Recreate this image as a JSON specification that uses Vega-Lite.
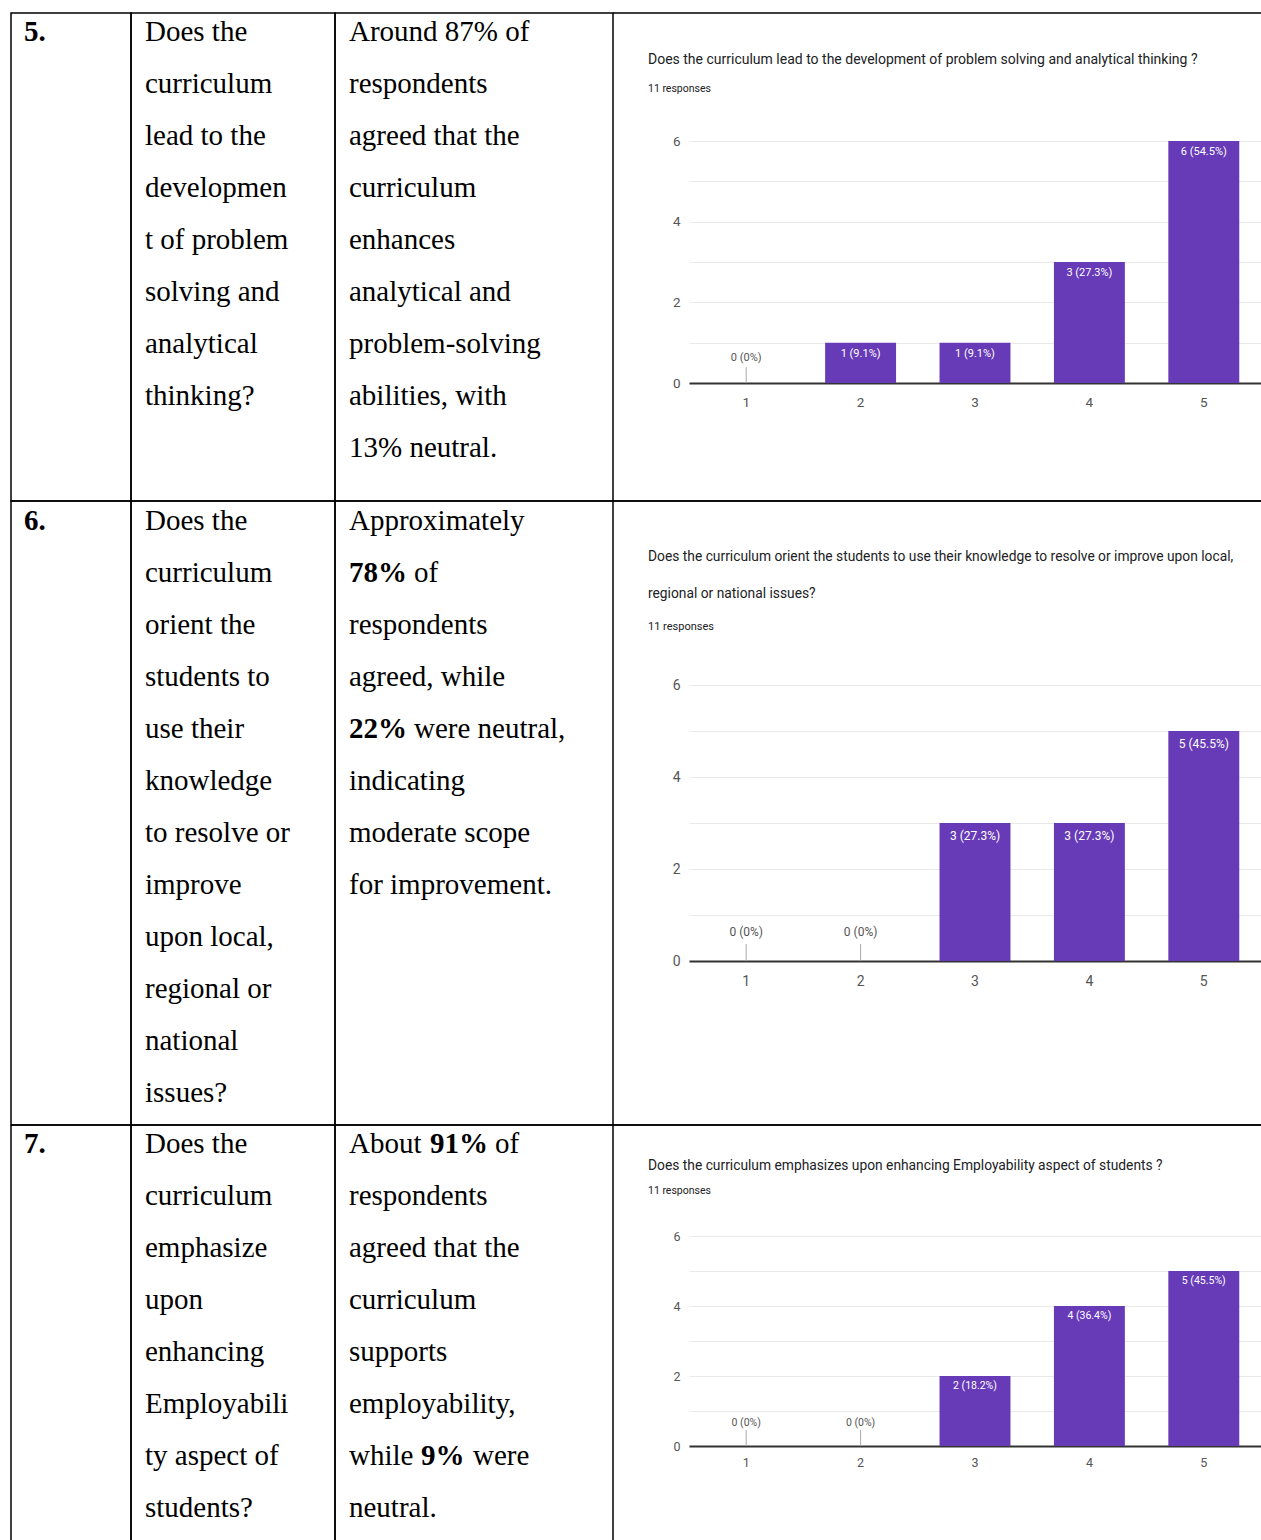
{
  "$schema": "https://vega.github.io/schema/vega-lite/v6.json",
  "background": "white",
  "padding": {"left": 10, "top": 12, "right": 0, "bottom": 0},
  "columns": 4,
  "spacing": 0,
  "align": "each",
  "bounds": "flush",
  "config": {
    "view": {"stroke": "#000", "strokeWidth": 1.5},
    "text": {"font": "Liberation Serif", "fontSize": 29, "color": "#000", "align": "left", "baseline": "middle"}
  },
  "datasets": {
    "lines": [
      {"row": 5, "col": "num", "line": 1, "seg": 0, "text": "5."},
      {"row": 5, "col": "q", "line": 1, "seg": 0, "text": "Does the"},
      {"row": 5, "col": "q", "line": 2, "seg": 0, "text": "curriculum"},
      {"row": 5, "col": "q", "line": 3, "seg": 0, "text": "lead to the"},
      {"row": 5, "col": "q", "line": 4, "seg": 0, "text": "developmen"},
      {"row": 5, "col": "q", "line": 5, "seg": 0, "text": "t of problem"},
      {"row": 5, "col": "q", "line": 6, "seg": 0, "text": "solving and"},
      {"row": 5, "col": "q", "line": 7, "seg": 0, "text": "analytical"},
      {"row": 5, "col": "q", "line": 8, "seg": 0, "text": "thinking?"},
      {"row": 5, "col": "a", "line": 1, "seg": 0, "text": "Around 87% of"},
      {"row": 5, "col": "a", "line": 2, "seg": 0, "text": "respondents"},
      {"row": 5, "col": "a", "line": 3, "seg": 0, "text": "agreed that the"},
      {"row": 5, "col": "a", "line": 4, "seg": 0, "text": "curriculum"},
      {"row": 5, "col": "a", "line": 5, "seg": 0, "text": "enhances"},
      {"row": 5, "col": "a", "line": 6, "seg": 0, "text": "analytical and"},
      {"row": 5, "col": "a", "line": 7, "seg": 0, "text": "problem-solving"},
      {"row": 5, "col": "a", "line": 8, "seg": 0, "text": "abilities, with"},
      {"row": 5, "col": "a", "line": 9, "seg": 0, "text": "13% neutral."},
      {"row": 6, "col": "num", "line": 1, "seg": 0, "text": "6."},
      {"row": 6, "col": "q", "line": 1, "seg": 0, "text": "Does the"},
      {"row": 6, "col": "q", "line": 2, "seg": 0, "text": "curriculum"},
      {"row": 6, "col": "q", "line": 3, "seg": 0, "text": "orient the"},
      {"row": 6, "col": "q", "line": 4, "seg": 0, "text": "students to"},
      {"row": 6, "col": "q", "line": 5, "seg": 0, "text": "use their"},
      {"row": 6, "col": "q", "line": 6, "seg": 0, "text": "knowledge"},
      {"row": 6, "col": "q", "line": 7, "seg": 0, "text": "to resolve or"},
      {"row": 6, "col": "q", "line": 8, "seg": 0, "text": "improve"},
      {"row": 6, "col": "q", "line": 9, "seg": 0, "text": "upon local,"},
      {"row": 6, "col": "q", "line": 10, "seg": 0, "text": "regional or"},
      {"row": 6, "col": "q", "line": 11, "seg": 0, "text": "national"},
      {"row": 6, "col": "q", "line": 12, "seg": 0, "text": "issues?"},
      {"row": 6, "col": "a", "line": 1, "seg": 0, "text": "Approximately"},
      {"row": 6, "col": "a", "line": 2, "seg": 1, "text": "78%"},
      {"row": 6, "col": "a", "line": 2, "seg": 2, "text": "of"},
      {"row": 6, "col": "a", "line": 3, "seg": 0, "text": "respondents"},
      {"row": 6, "col": "a", "line": 4, "seg": 0, "text": "agreed, while"},
      {"row": 6, "col": "a", "line": 5, "seg": 1, "text": "22%"},
      {"row": 6, "col": "a", "line": 5, "seg": 2, "text": "were neutral,"},
      {"row": 6, "col": "a", "line": 6, "seg": 0, "text": "indicating"},
      {"row": 6, "col": "a", "line": 7, "seg": 0, "text": "moderate scope"},
      {"row": 6, "col": "a", "line": 8, "seg": 0, "text": "for improvement."},
      {"row": 7, "col": "num", "line": 1, "seg": 0, "text": "7."},
      {"row": 7, "col": "q", "line": 1, "seg": 0, "text": "Does the"},
      {"row": 7, "col": "q", "line": 2, "seg": 0, "text": "curriculum"},
      {"row": 7, "col": "q", "line": 3, "seg": 0, "text": "emphasize"},
      {"row": 7, "col": "q", "line": 4, "seg": 0, "text": "upon"},
      {"row": 7, "col": "q", "line": 5, "seg": 0, "text": "enhancing"},
      {"row": 7, "col": "q", "line": 6, "seg": 0, "text": "Employabili"},
      {"row": 7, "col": "q", "line": 7, "seg": 0, "text": "ty aspect of"},
      {"row": 7, "col": "q", "line": 8, "seg": 0, "text": "students?"},
      {"row": 7, "col": "a", "line": 1, "seg": 0, "text": "About"},
      {"row": 7, "col": "a", "line": 1, "seg": 1, "text": "91%"},
      {"row": 7, "col": "a", "line": 1, "seg": 2, "text": "of"},
      {"row": 7, "col": "a", "line": 2, "seg": 0, "text": "respondents"},
      {"row": 7, "col": "a", "line": 3, "seg": 0, "text": "agreed that the"},
      {"row": 7, "col": "a", "line": 4, "seg": 0, "text": "curriculum"},
      {"row": 7, "col": "a", "line": 5, "seg": 0, "text": "supports"},
      {"row": 7, "col": "a", "line": 6, "seg": 0, "text": "employability,"},
      {"row": 7, "col": "a", "line": 7, "seg": 0, "text": "while"},
      {"row": 7, "col": "a", "line": 7, "seg": 1, "text": "9%"},
      {"row": 7, "col": "a", "line": 7, "seg": 2, "text": "were"},
      {"row": 7, "col": "a", "line": 8, "seg": 0, "text": "neutral."}
    ],
    "votes": [
      {"q": 5, "rating": "1", "count": 0, "pct": "0%"},
      {"q": 5, "rating": "2", "count": 1, "pct": "9.1%"},
      {"q": 5, "rating": "3", "count": 1, "pct": "9.1%"},
      {"q": 5, "rating": "4", "count": 3, "pct": "27.3%"},
      {"q": 5, "rating": "5", "count": 6, "pct": "54.5%"},
      {"q": 6, "rating": "1", "count": 0, "pct": "0%"},
      {"q": 6, "rating": "2", "count": 0, "pct": "0%"},
      {"q": 6, "rating": "3", "count": 3, "pct": "27.3%"},
      {"q": 6, "rating": "4", "count": 3, "pct": "27.3%"},
      {"q": 6, "rating": "5", "count": 5, "pct": "45.5%"},
      {"q": 7, "rating": "1", "count": 0, "pct": "0%"},
      {"q": 7, "rating": "2", "count": 0, "pct": "0%"},
      {"q": 7, "rating": "3", "count": 2, "pct": "18.2%"},
      {"q": 7, "rating": "4", "count": 4, "pct": "36.4%"},
      {"q": 7, "rating": "5", "count": 5, "pct": "45.5%"}
    ]
  },
  "concat": [
    {
      "width": 120, "height": 488,
      "data": {"name": "lines"},
      "transform": [{"filter": "datum.row == 5 && datum.col == 'num'"}],
      "mark": {"type": "text", "fontWeight": "bold", "dx": 13},
      "encoding": {
        "x": {"field": "col", "type": "nominal", "bandPosition": 0, "scale": {"type": "band", "paddingInner": 0, "paddingOuter": 0}, "axis": null},
        "y": {"field": "line", "type": "quantitative", "scale": {"domain": [0.642, 10.026], "reverse": true, "nice": false, "zero": false}, "axis": null},
        "text": {"field": "text"}
      }
    },
    {
      "width": 204, "height": 488,
      "data": {"name": "lines"},
      "transform": [{"filter": "datum.row == 5 && datum.col == 'q'"}],
      "mark": {"type": "text", "dx": 14},
      "encoding": {
        "x": {"field": "col", "type": "nominal", "bandPosition": 0, "scale": {"type": "band", "paddingInner": 0, "paddingOuter": 0}, "axis": null},
        "y": {"field": "line", "type": "quantitative", "scale": {"domain": [0.642, 10.026], "reverse": true, "nice": false, "zero": false}, "axis": null},
        "text": {"field": "text"}
      }
    },
    {
      "width": 278, "height": 488,
      "data": {"name": "lines"},
      "transform": [{"filter": "datum.row == 5 && datum.col == 'a'"}],
      "mark": {"type": "text", "dx": 14},
      "encoding": {
        "x": {"field": "col", "type": "nominal", "bandPosition": 0, "scale": {"type": "band", "paddingInner": 0, "paddingOuter": 0}, "axis": null},
        "y": {"field": "line", "type": "quantitative", "scale": {"domain": [0.642, 10.026], "reverse": true, "nice": false, "zero": false}, "axis": null},
        "text": {"field": "text"}
      }
    },
    {
      "width": 648, "height": 488,
      "view": {"stroke": "#000", "strokeWidth": 1.5, "strokeDash": [648, 488, 648, 488]},
      "title": {
        "text": "Does the curriculum lead to the development of  problem solving and  analytical thinking ?",
        "subtitle": "11 responses",
        "anchor": "start", "frame": "group", "dx": 35, "offset": -81,
        "font": "Roboto", "fontSize": 14, "fontWeight": "normal", "color": "#202124",
        "subtitleFont": "Roboto", "subtitleFontSize": 10.5, "subtitleColor": "#202124", "subtitlePadding": 17
      },
      "data": {"name": "votes"},
      "transform": [
        {"filter": "datum.q == 5"},
        {"calculate": "datum.count + ' (' + datum.pct + ')'", "as": "label"}
      ],
      "encoding": {
        "x": {
          "field": "rating", "type": "ordinal",
          "scale": {"range": [76, 648], "paddingInner": 0.38, "paddingOuter": 0.19},
          "axis": {"title": null, "offset": -118, "domainColor": "#333", "domainWidth": 2, "ticks": false, "tickSize": 0, "labelPadding": 19, "labelBaseline": "middle", "labelAngle": 0, "labelFont": "Roboto", "labelFontSize": 13.5, "labelColor": "#555", "grid": false}
        },
        "y": {
          "field": "count", "type": "quantitative",
          "scale": {"domain": [0, 6], "range": [370, 128], "nice": false},
          "axis": {"title": null, "offset": -76, "domain": false, "ticks": false, "tickSize": 0, "labelPadding": 9, "values": [0, 1, 2, 3, 4, 5, 6], "labelExpr": "datum.value % 2 == 0 ? datum.label : ''", "gridColor": "#e9e9e9", "gridWidth": 1, "labelFont": "Roboto", "labelFontSize": 13.5, "labelColor": "#555"}
        }
      },
      "layer": [
        {"mark": {"type": "bar", "color": "#673ab7"}},
        {
          "transform": [{"filter": "datum.count > 0"}],
          "mark": {"type": "text", "align": "center", "baseline": "middle", "dy": 11, "color": "#ffffff", "font": "Roboto", "fontSize": 11},
          "encoding": {"text": {"field": "label"}}
        },
        {
          "transform": [{"filter": "datum.count == 0"}],
          "mark": {"type": "text", "align": "center", "baseline": "middle", "dy": -25, "color": "#555", "font": "Roboto", "fontSize": 11},
          "encoding": {"text": {"field": "label"}}
        },
        {
          "transform": [{"filter": "datum.count == 0"}],
          "mark": {"type": "rule", "color": "#aaa", "strokeWidth": 1, "y2Offset": -16},
          "encoding": {"y2": {"field": "count"}}
        }
      ]
    },
    {
      "width": 120, "height": 624,
      "data": {"name": "lines"},
      "transform": [{"filter": "datum.row == 6 && datum.col == 'num'"}],
      "mark": {"type": "text", "fontWeight": "bold", "dx": 13},
      "encoding": {
        "x": {"field": "col", "type": "nominal", "bandPosition": 0, "scale": {"type": "band", "paddingInner": 0, "paddingOuter": 0}, "axis": null},
        "y": {"field": "line", "type": "quantitative", "scale": {"domain": [0.615, 12.615], "reverse": true, "nice": false, "zero": false}, "axis": null},
        "text": {"field": "text"}
      }
    },
    {
      "width": 204, "height": 624,
      "data": {"name": "lines"},
      "transform": [{"filter": "datum.row == 6 && datum.col == 'q'"}],
      "mark": {"type": "text", "dx": 14},
      "encoding": {
        "x": {"field": "col", "type": "nominal", "bandPosition": 0, "scale": {"type": "band", "paddingInner": 0, "paddingOuter": 0}, "axis": null},
        "y": {"field": "line", "type": "quantitative", "scale": {"domain": [0.615, 12.615], "reverse": true, "nice": false, "zero": false}, "axis": null},
        "text": {"field": "text"}
      }
    },
    {
      "width": 278, "height": 624,
      "data": {"name": "lines"},
      "transform": [{"filter": "datum.row == 6 && datum.col == 'a'"}],
      "encoding": {
        "x": {"field": "col", "type": "nominal", "bandPosition": 0, "scale": {"type": "band", "paddingInner": 0, "paddingOuter": 0}, "axis": null},
        "y": {"field": "line", "type": "quantitative", "scale": {"domain": [0.615, 12.615], "reverse": true, "nice": false, "zero": false}, "axis": null},
        "text": {"field": "text"}
      },
      "layer": [
        {"transform": [{"filter": "datum.seg == 0"}], "mark": {"type": "text", "dx": 14}},
        {"transform": [{"filter": "datum.seg == 1"}], "mark": {"type": "text", "dx": 14, "fontWeight": "bold"}},
        {"transform": [{"filter": "datum.seg == 2"}], "mark": {"type": "text", "dx": 79}}
      ]
    },
    {
      "width": 648, "height": 624,
      "view": {"stroke": "#000", "strokeWidth": 1.5, "strokeDash": [648, 624, 648, 624]},
      "title": {
        "text": ["Does the curriculum orient the students to use their knowledge to resolve or improve upon local,", "regional or national issues?"],
        "subtitle": "11 responses",
        "anchor": "start", "frame": "group", "dx": 35, "offset": -131, "lineHeight": 37,
        "font": "Roboto", "fontSize": 13.8, "fontWeight": "normal", "color": "#202124",
        "subtitleFont": "Roboto", "subtitleFontSize": 11, "subtitleColor": "#202124", "subtitlePadding": 20
      },
      "data": {"name": "votes"},
      "transform": [
        {"filter": "datum.q == 6"},
        {"calculate": "datum.count + ' (' + datum.pct + ')'", "as": "label"}
      ],
      "encoding": {
        "x": {
          "field": "rating", "type": "ordinal",
          "scale": {"range": [76, 648], "paddingInner": 0.38, "paddingOuter": 0.19},
          "axis": {"title": null, "offset": -164, "domainColor": "#333", "domainWidth": 2, "ticks": false, "tickSize": 0, "labelPadding": 20, "labelBaseline": "middle", "labelAngle": 0, "labelFont": "Roboto", "labelFontSize": 14, "labelColor": "#555", "grid": false}
        },
        "y": {
          "field": "count", "type": "quantitative",
          "scale": {"domain": [0, 6], "range": [460, 184], "nice": false},
          "axis": {"title": null, "offset": -76, "domain": false, "ticks": false, "tickSize": 0, "labelPadding": 9, "values": [0, 1, 2, 3, 4, 5, 6], "labelExpr": "datum.value % 2 == 0 ? datum.label : ''", "gridColor": "#e9e9e9", "gridWidth": 1, "labelFont": "Roboto", "labelFontSize": 14, "labelColor": "#555"}
        }
      },
      "layer": [
        {"mark": {"type": "bar", "color": "#673ab7"}},
        {
          "transform": [{"filter": "datum.count > 0"}],
          "mark": {"type": "text", "align": "center", "baseline": "middle", "dy": 13, "color": "#ffffff", "font": "Roboto", "fontSize": 12},
          "encoding": {"text": {"field": "label"}}
        },
        {
          "transform": [{"filter": "datum.count == 0"}],
          "mark": {"type": "text", "align": "center", "baseline": "middle", "dy": -29, "color": "#555", "font": "Roboto", "fontSize": 12},
          "encoding": {"text": {"field": "label"}}
        },
        {
          "transform": [{"filter": "datum.count == 0"}],
          "mark": {"type": "rule", "color": "#aaa", "strokeWidth": 1, "y2Offset": -17},
          "encoding": {"y2": {"field": "count"}}
        }
      ]
    },
    {
      "width": 120, "height": 415,
      "view": {"stroke": "#000", "strokeWidth": 1.5, "strokeDash": [535, 120, 415, 0]},
      "data": {"name": "lines"},
      "transform": [{"filter": "datum.row == 7 && datum.col == 'num'"}],
      "mark": {"type": "text", "fontWeight": "bold", "dx": 13},
      "encoding": {
        "x": {"field": "col", "type": "nominal", "bandPosition": 0, "scale": {"type": "band", "paddingInner": 0, "paddingOuter": 0}, "axis": null},
        "y": {"field": "line", "type": "quantitative", "scale": {"domain": [0.635, 8.616], "reverse": true, "nice": false, "zero": false}, "axis": null},
        "text": {"field": "text"}
      }
    },
    {
      "width": 204, "height": 415,
      "view": {"stroke": "#000", "strokeWidth": 1.5, "strokeDash": [619, 204, 415, 0]},
      "data": {"name": "lines"},
      "transform": [{"filter": "datum.row == 7 && datum.col == 'q'"}],
      "mark": {"type": "text", "dx": 14},
      "encoding": {
        "x": {"field": "col", "type": "nominal", "bandPosition": 0, "scale": {"type": "band", "paddingInner": 0, "paddingOuter": 0}, "axis": null},
        "y": {"field": "line", "type": "quantitative", "scale": {"domain": [0.635, 8.616], "reverse": true, "nice": false, "zero": false}, "axis": null},
        "text": {"field": "text"}
      }
    },
    {
      "width": 278, "height": 415,
      "view": {"stroke": "#000", "strokeWidth": 1.5, "strokeDash": [693, 278, 415, 0]},
      "data": {"name": "lines"},
      "transform": [{"filter": "datum.row == 7 && datum.col == 'a'"}],
      "encoding": {
        "x": {"field": "col", "type": "nominal", "bandPosition": 0, "scale": {"type": "band", "paddingInner": 0, "paddingOuter": 0}, "axis": null},
        "y": {"field": "line", "type": "quantitative", "scale": {"domain": [0.635, 8.616], "reverse": true, "nice": false, "zero": false}, "axis": null},
        "text": {"field": "text"}
      },
      "layer": [
        {"transform": [{"filter": "datum.seg == 0"}], "mark": {"type": "text", "dx": 14}},
        {"transform": [{"filter": "datum.seg == 1 && datum.line == 1"}], "mark": {"type": "text", "dx": 95, "fontWeight": "bold"}},
        {"transform": [{"filter": "datum.seg == 1 && datum.line == 7"}], "mark": {"type": "text", "dx": 86, "fontWeight": "bold"}},
        {"transform": [{"filter": "datum.seg == 2 && datum.line == 1"}], "mark": {"type": "text", "dx": 160}},
        {"transform": [{"filter": "datum.seg == 2 && datum.line == 7"}], "mark": {"type": "text", "dx": 138}}
      ]
    },
    {
      "width": 648, "height": 415,
      "view": {"stroke": "#000", "strokeWidth": 1.5, "strokeDash": [648, 1711]},
      "title": {
        "text": "Does the curriculum emphasizes upon enhancing Employability aspect of students ?",
        "subtitle": "11 responses",
        "anchor": "start", "frame": "group", "dx": 35, "offset": -71,
        "font": "Roboto", "fontSize": 13.8, "fontWeight": "normal", "color": "#202124",
        "subtitleFont": "Roboto", "subtitleFontSize": 10.5, "subtitleColor": "#202124", "subtitlePadding": 13
      },
      "data": {"name": "votes"},
      "transform": [
        {"filter": "datum.q == 7"},
        {"calculate": "datum.count + ' (' + datum.pct + ')'", "as": "label"}
      ],
      "encoding": {
        "x": {
          "field": "rating", "type": "ordinal",
          "scale": {"range": [76, 648], "paddingInner": 0.38, "paddingOuter": 0.19},
          "axis": {"title": null, "offset": -94, "domainColor": "#333", "domainWidth": 2, "ticks": false, "tickSize": 0, "labelPadding": 16, "labelBaseline": "middle", "labelAngle": 0, "labelFont": "Roboto", "labelFontSize": 12.5, "labelColor": "#555", "grid": false}
        },
        "y": {
          "field": "count", "type": "quantitative",
          "scale": {"domain": [0, 6], "range": [321, 111], "nice": false},
          "axis": {"title": null, "offset": -76, "domain": false, "ticks": false, "tickSize": 0, "labelPadding": 9, "values": [0, 1, 2, 3, 4, 5, 6], "labelExpr": "datum.value % 2 == 0 ? datum.label : ''", "gridColor": "#e9e9e9", "gridWidth": 1, "labelFont": "Roboto", "labelFontSize": 12.5, "labelColor": "#555"}
        }
      },
      "layer": [
        {"mark": {"type": "bar", "color": "#673ab7"}},
        {
          "transform": [{"filter": "datum.count > 0"}],
          "mark": {"type": "text", "align": "center", "baseline": "middle", "dy": 10, "color": "#ffffff", "font": "Roboto", "fontSize": 10.5},
          "encoding": {"text": {"field": "label"}}
        },
        {
          "transform": [{"filter": "datum.count == 0"}],
          "mark": {"type": "text", "align": "center", "baseline": "middle", "dy": -23, "color": "#555", "font": "Roboto", "fontSize": 10.5},
          "encoding": {"text": {"field": "label"}}
        },
        {
          "transform": [{"filter": "datum.count == 0"}],
          "mark": {"type": "rule", "color": "#aaa", "strokeWidth": 1, "y2Offset": -16},
          "encoding": {"y2": {"field": "count"}}
        }
      ]
    }
  ]
}
